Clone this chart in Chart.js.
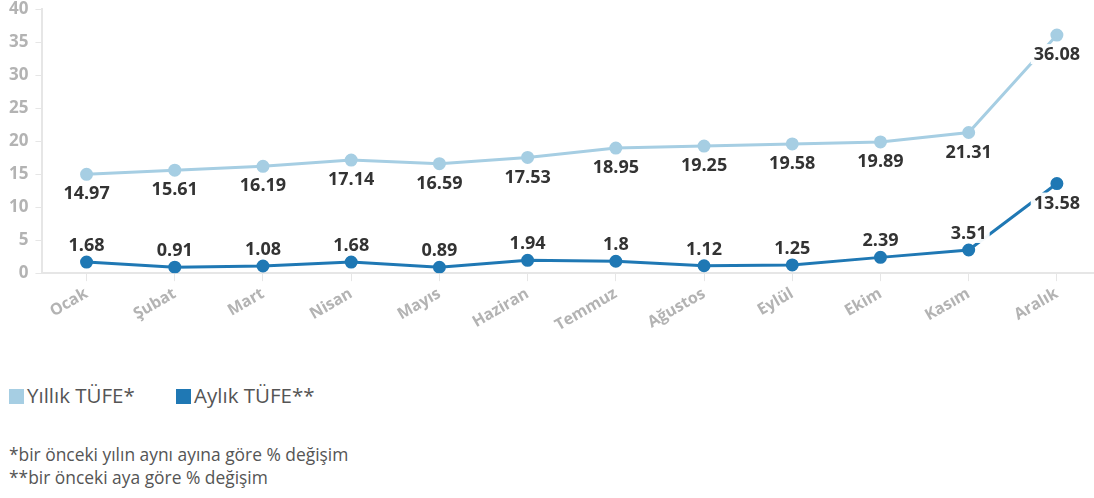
<!DOCTYPE html>
<html>
<head>
<meta charset="utf-8">
<script src="https://cdn.jsdelivr.net/npm/chart.js@4"></script>
<style>
  body { margin: 0; background: #fff; font-family: "Open Sans", sans-serif; overflow: hidden; }
  #wrap { position: relative; width: 1109px; height: 346px; margin-top: -8px; }
  #legend { position: absolute; left: 9px; top: 381px; font-size: 20.5px; color: #555; white-space: nowrap; }
  #legend span.item { margin-right: 36px; }
  #legend i { display: inline-block; width: 15px; height: 15px; vertical-align: -1px; margin-right: 3px; }
  #notes { position: absolute; left: 9px; top: 443px; font-size: 17.4px; color: #555; line-height: 23px; white-space: nowrap; }
</style>
</head>
<body>
<div id="wrap"><canvas id="myChart"></canvas></div>
<div id="legend">
  <span class="item"><i style="background:#a6cee3"></i>Yıllık TÜFE*</span>
  <span class="item"><i style="background:#1f78b4"></i>Aylık TÜFE**</span>
</div>
<div id="notes">*bir önceki yılın aynı ayına göre % değişim<br>**bir önceki aya göre % değişim</div>
<script>
var aylar = ['Ocak', 'Şubat', 'Mart', 'Nisan', 'Mayıs', 'Haziran', 'Temmuz', 'Ağustos', 'Eylül', 'Ekim', 'Kasım', 'Aralık'];
var yillik = [14.97, 15.61, 16.19, 17.14, 16.59, 17.53, 18.95, 19.25, 19.58, 19.89, 21.31, 36.08];
var aylik = [1.68, 0.91, 1.08, 1.68, 0.89, 1.94, 1.8, 1.12, 1.25, 2.39, 3.51, 13.58];

// value labels with white boxes, drawn over the lines
var etiketler = {
    id: 'etiketler',
    afterDatasetsDraw: function (chart) {
        var c = chart.ctx;
        c.save();
        c.font = 'bold 18px "Open Sans"';
        c.textAlign = 'center';
        c.textBaseline = 'middle';
        chart.data.datasets.forEach(function (ds, di) {
            var meta = chart.getDatasetMeta(di);
            meta.data.forEach(function (pt, i) {
                var txt = String(ds.data[i]);
                var below = di === 0 || i === ds.data.length - 1;
                var y = below ? pt.y + 19 : pt.y - 17;
                var w = c.measureText(txt).width + 6;
                c.fillStyle = 'rgba(255,255,255,0.95)';
                c.fillRect(pt.x - w / 2, y - 10, w, 20);
                c.fillStyle = '#333';
                c.fillText(txt, pt.x, y + 1);
            });
        });
        c.restore();
    }
};

var ctx = document.getElementById('myChart').getContext('2d');
var chart = new Chart(ctx, {
    type: 'line',
    data: {
        labels: aylar,
        datasets: [{
            label: 'Yıllık TÜFE*',
            data: yillik,
            borderColor: '#a6cee3',
            backgroundColor: '#a6cee3',
            borderWidth: 3,
            pointRadius: 5,
            pointHoverRadius: 5
        }, {
            label: 'Aylık TÜFE**',
            data: aylik,
            borderColor: '#1f78b4',
            backgroundColor: '#1f78b4',
            borderWidth: 3,
            pointRadius: 5,
            pointHoverRadius: 5
        }]
    },
    options: {
        responsive: true,
        maintainAspectRatio: false,
        animation: false,
        layout: { padding: { top: 1, right: 0, left: 2, bottom: 0 } },
        plugins: { legend: { display: false }, tooltip: { enabled: false } },
        scales: {
            x: {
                offset: true,
                grid: { drawOnChartArea: false, drawTicks: true, tickLength: 8, color: '#e6e6e6' },
                border: { color: '#e6e6e6', width: 2 },
                ticks: {
                    minRotation: 30, maxRotation: 30,
                    color: '#b3b3b3',
                    font: { family: 'Open Sans', size: 16, weight: 'bold' }
                }
            },
            y: {
                min: 0, max: 40,
                grid: { drawOnChartArea: false, drawTicks: true, tickLength: 7, color: '#e6e6e6' },
                border: { color: '#e6e6e6', width: 2 },
                ticks: {
                    stepSize: 5,
                    color: '#b3b3b3',
                    padding: 7,
                    font: { family: 'Open Sans', size: 17, weight: 'bold' }
                }
            }
        }
    },
    plugins: [etiketler]
});
</script>
</body>
</html>
